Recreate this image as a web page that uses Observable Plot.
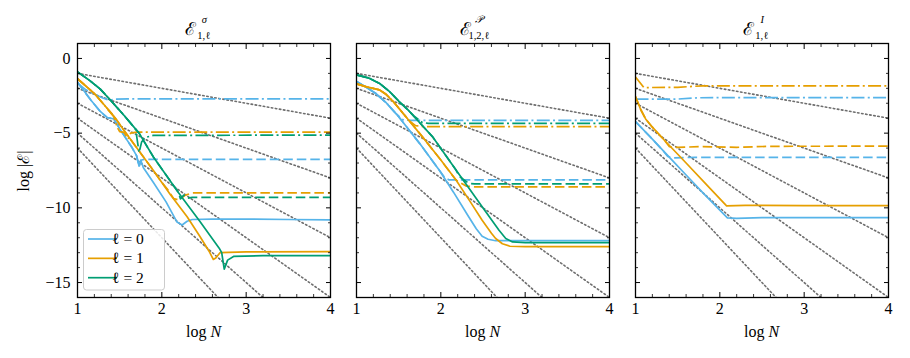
<!DOCTYPE html>
<html>
<head>
<meta charset="utf-8">
<script src="https://cdn.jsdelivr.net/npm/d3@7"></script>
<script src="https://cdn.jsdelivr.net/npm/@observablehq/plot@0.6"></script>
<style>
html, body { margin: 0; padding: 0; background: #fff; }
#chart { position: relative; width: 910px; height: 358px; overflow: hidden; background: #fff; }
#chart svg { position: absolute; top: 0; }
</style>
</head>
<body>
<div id="chart"></div>
<script>
// ---------- categories, colours, ticks ----------
const ellLevels = [0, 1, 2];
const ellColors = ["#56B4E9", "#E69F00", "#009E73"];
const ellLabels = ["ℓ = 0", "ℓ = 1", "ℓ = 2"];
const lineStyles = ["solid", "dashed", "dashdot"];

const xMajorTicks = [1, 2, 3, 4];
const xMinorTicks = [1.2, 1.4, 1.6, 1.8, 2.2, 2.4, 2.6, 2.8, 3.2, 3.4, 3.6, 3.8];
const yMajorTicks = [0, -5, -10, -15];
const yMinorTicks = [1, -1, -2, -3, -4, -6, -7, -8, -9, -11, -12, -13, -14, -16];

// reference slopes  log|E| = -p log N   (values at log N = 1 and log N = 4)
const refOrders = [1, 2, 3, 4, 5, 6];
const refStartX = 1, refEndX = 4;
const refStartY = [-1, -2, -3, -4, -5, -6];
const refEndY = [-4, -8, -12, -16, -20, -24];

// ---------- panel 1 : E^sigma_{1,l} ----------
const p1_l0_solid = [[1,-1.6],[1.08,-2.2],[1.16,-2.8],[1.27,-3.55],[1.35,-3.95],[1.43,-4.05],[1.5,-4.7],[1.58,-5.4],[1.65,-6.0],[1.7,-6.5],[1.73,-7.2],[1.75,-6.8],[1.78,-7.3],[1.9,-8.3],[2.05,-9.6],[2.18,-10.95],[2.24,-11.15],[2.3,-10.9],[2.36,-10.78],[2.6,-10.75],[3,-10.75],[3.5,-10.78],[4,-10.8]];
const p1_l0_dashed = [[1,-1.6],[1.08,-2.2],[1.16,-2.8],[1.27,-3.55],[1.35,-3.95],[1.43,-4.05],[1.5,-4.7],[1.58,-5.4],[1.65,-6.0],[1.7,-6.5],[1.73,-7.25],[1.76,-6.8],[1.8,-6.75],[4,-6.75]];
const p1_l0_dashdot = [[1,-1.65],[1.1,-2.1],[1.2,-2.4],[1.3,-2.65],[1.38,-2.8],[1.45,-2.72],[1.6,-2.7],[4,-2.7]];
const p1_l1_solid = [[1,-1.36],[1.1,-1.85],[1.2,-2.35],[1.3,-3.0],[1.43,-3.85],[1.55,-4.8],[1.73,-6.2],[1.9,-7.5],[2.1,-9.1],[2.3,-10.6],[2.45,-11.9],[2.56,-12.9],[2.61,-13.45],[2.64,-13.35],[2.69,-13.0],[3,-12.95],[4,-12.93]];
const p1_l1_dashed = [[1,-1.36],[1.1,-1.85],[1.2,-2.35],[1.3,-3.0],[1.43,-3.85],[1.55,-4.8],[1.73,-6.2],[1.9,-7.5],[2.0,-8.3],[2.06,-8.7],[2.14,-9.37],[2.2,-9.48],[2.28,-9.15],[2.36,-9.0],[4,-9.0]];
const p1_l1_dashdot = [[1,-1.36],[1.1,-1.85],[1.2,-2.35],[1.3,-3.0],[1.43,-3.9],[1.47,-4.6],[1.5,-4.9],[1.55,-4.95],[1.6,-5.4],[1.63,-5.0],[1.7,-4.93],[4,-4.93]];
const p1_l2_solid = [[1,-0.9],[1.15,-1.5],[1.27,-2.05],[1.4,-2.85],[1.55,-3.8],[1.73,-5.0],[1.9,-6.6],[2.2,-9.0],[2.45,-10.9],[2.68,-12.7],[2.71,-13.0],[2.74,-14.1],[2.78,-13.5],[2.85,-13.25],[3.2,-13.2],[4,-13.2]];
const p1_l2_dashed = [[1,-0.9],[1.15,-1.5],[1.27,-2.05],[1.4,-2.85],[1.55,-3.8],[1.73,-5.0],[1.9,-6.6],[2.2,-9.0],[2.22,-9.4],[2.26,-9.15],[2.3,-9.35],[2.36,-9.3],[4,-9.3]];
const p1_l2_dashdot = [[1,-0.9],[1.15,-1.5],[1.27,-2.05],[1.4,-2.85],[1.55,-3.8],[1.69,-4.75],[1.73,-6.3],[1.76,-5.6],[1.8,-5.3],[1.9,-5.15],[4,-5.13]];

// ---------- panel 2 : E^P_{1,2,l} ----------
const p2_l0_solid = [[1,-1.54],[1.12,-1.95],[1.23,-2.35],[1.35,-2.95],[1.5,-3.9],[1.75,-5.7],[1.98,-7.47],[2.15,-8.95],[2.33,-10.6],[2.42,-11.4],[2.49,-11.9],[2.56,-12.1],[2.65,-12.2],[3,-12.2],[4,-12.2]];
const p2_l0_dashed = [[1,-1.54],[1.12,-1.95],[1.23,-2.35],[1.35,-2.95],[1.5,-3.9],[1.75,-5.7],[1.98,-7.47],[2.05,-8.0],[2.1,-8.13],[4,-8.13]];
const p2_l0_dashdot = [[1,-1.54],[1.12,-1.95],[1.23,-2.35],[1.35,-2.95],[1.47,-3.7],[1.55,-4.1],[1.65,-4.15],[4,-4.15]];
const p2_l1_solid = [[1,-1.7],[1.12,-1.9],[1.27,-2.1],[1.35,-2.4],[1.43,-2.85],[1.6,-4.0],[1.78,-5.23],[2.0,-6.8],[2.18,-8.14],[2.35,-9.6],[2.49,-10.83],[2.6,-11.7],[2.65,-12.05],[2.73,-12.4],[2.82,-12.57],[3,-12.6],[4,-12.6]];
const p2_l1_dashed = [[1,-1.7],[1.12,-1.9],[1.27,-2.1],[1.35,-2.4],[1.43,-2.85],[1.6,-4.0],[1.78,-5.23],[2.0,-6.8],[2.18,-8.14],[2.3,-8.54],[2.4,-8.59],[4,-8.59]];
const p2_l1_dashdot = [[1,-1.7],[1.12,-1.9],[1.27,-2.1],[1.35,-2.4],[1.43,-2.85],[1.55,-3.65],[1.62,-4.15],[1.7,-4.5],[1.8,-4.56],[4,-4.56]];
const p2_l2_solid = [[1,-1.1],[1.15,-1.32],[1.28,-1.7],[1.39,-2.21],[1.5,-2.85],[1.62,-3.5],[1.9,-5.23],[2.18,-7.47],[2.49,-9.93],[2.69,-11.5],[2.77,-12.05],[2.85,-12.28],[3,-12.33],[4,-12.33]];
const p2_l2_dashed = [[1,-1.1],[1.15,-1.32],[1.28,-1.7],[1.39,-2.21],[1.5,-2.85],[1.62,-3.5],[1.9,-5.23],[2.18,-7.47],[2.22,-7.9],[2.33,-8.36],[2.4,-8.4],[4,-8.4]];
const p2_l2_dashdot = [[1,-1.1],[1.15,-1.32],[1.28,-1.7],[1.39,-2.21],[1.5,-2.85],[1.62,-3.5],[1.68,-3.85],[1.78,-4.29],[1.85,-4.34],[4,-4.34]];

// ---------- panel 3 : E^I_{1,l} ----------
const p3_l0_solid = [[1,-4.23],[1.2,-5.4],[1.4,-6.6],[1.6,-7.8],[1.8,-9.0],[2.0,-10.15],[2.09,-10.67],[2.2,-10.7],[2.5,-10.65],[3,-10.66],[4,-10.65]];
const p3_l0_dashed = [[1,-4.23],[1.2,-5.4],[1.33,-6.2],[1.38,-6.55],[1.45,-6.65],[1.7,-6.62],[4,-6.62]];
const p3_l0_dashdot = [[1,-2.72],[1.5,-2.72],[1.75,-2.63],[4,-2.62]];
const p3_l1_solid = [[1,-2.55],[1.06,-3.4],[1.12,-4.05],[1.2,-4.6],[1.34,-5.46],[1.6,-7.0],[1.85,-8.5],[2.08,-9.87],[2.3,-9.83],[3,-9.85],[4,-9.85]];
const p3_l1_dashed = [[1,-2.55],[1.06,-3.4],[1.12,-4.05],[1.2,-4.6],[1.34,-5.46],[1.4,-5.9],[1.5,-5.95],[1.8,-5.9],[2.2,-5.95],[2.6,-5.88],[4,-5.87]];
const p3_l1_dashdot = [[1,-1.25],[1.1,-1.95],[1.5,-1.93],[1.8,-1.83],[4,-1.83]];

const panelTitles = [
  {main: "ℰ", sup: "σ", sub: "1,ℓ"},
  {main: "ℰ", sup: "𝒫", sub: "1,2,ℓ"},
  {main: "ℰ", sup: "I", sub: "1,ℓ"}
];

// ---------- assemble ----------
function rows(ell, style, pts) { return pts.map(([x, y]) => ({ell, style, x, y})); }
const panelSeries = [
  [[0,"solid",p1_l0_solid],[0,"dashed",p1_l0_dashed],[0,"dashdot",p1_l0_dashdot],
   [1,"solid",p1_l1_solid],[1,"dashed",p1_l1_dashed],[1,"dashdot",p1_l1_dashdot],
   [2,"solid",p1_l2_solid],[2,"dashed",p1_l2_dashed],[2,"dashdot",p1_l2_dashdot]],
  [[0,"solid",p2_l0_solid],[0,"dashed",p2_l0_dashed],[0,"dashdot",p2_l0_dashdot],
   [1,"solid",p2_l1_solid],[1,"dashed",p2_l1_dashed],[1,"dashdot",p2_l1_dashdot],
   [2,"solid",p2_l2_solid],[2,"dashed",p2_l2_dashed],[2,"dashdot",p2_l2_dashdot]],
  [[0,"solid",p3_l0_solid],[0,"dashed",p3_l0_dashed],[0,"dashdot",p3_l0_dashdot],
   [1,"solid",p3_l1_solid],[1,"dashed",p3_l1_dashed],[1,"dashdot",p3_l1_dashdot]]
];
const refRows = refOrders.flatMap((p, i) => [
  {p, x: refStartX, y: refStartY[i]}, {p, x: refEndX, y: refEndY[i]}
]);

const dashOf = {solid: null, dashed: "9.5,4", dashdot: "13,3.3,2,3.3"};
const SERIF = "Liberation Serif, DejaVu Serif, serif";
const fmt = d => d < 0 ? "\u2212" + (-d) : String(d);

// layout of the three panels (svg left offset, width, margins)
const layout = [
  {left: 0,   width: 343, ml: 77, mr: 13},
  {left: 343, width: 279, ml: 13, mr: 13},
  {left: 622, width: 288, ml: 13, mr: 22}
];
const MT = 43, MB = 61, H = 358;

const chart = document.getElementById("chart");

layout.forEach((L, pi) => {
  const data = panelSeries[pi].flatMap(([ell, st, pts]) => rows(ell, st, pts));
  const lineMarks = [];
  ellLevels.forEach(ell => {
    lineStyles.forEach(st => {
      const sub = data.filter(d => d.ell === ell && d.style === st);
      if (!sub.length) return;
      lineMarks.push(Plot.line(sub, {
        x: "x", y: "y", stroke: "ell", strokeWidth: 1.7,
        strokeDasharray: dashOf[st], clip: true,
        strokeLinejoin: "round", strokeLinecap: "butt"
      }));
    });
  });

  const axes = [
    Plot.axisX(xMajorTicks, {anchor: "bottom", tickSize: -5, fill: "none", label: null, strokeWidth: 1}),
    Plot.axisX(xMinorTicks, {anchor: "bottom", tickSize: -3, fill: "none", label: null, strokeWidth: 0.8}),
    Plot.axisX(xMajorTicks, {anchor: "top", tickSize: -5, fill: "none", label: null, strokeWidth: 1}),
    Plot.axisX(xMinorTicks, {anchor: "top", tickSize: -3, fill: "none", label: null, strokeWidth: 0.8}),
    Plot.axisX(xMajorTicks, {anchor: "bottom", tickSize: 0, tickPadding: 5, tickFormat: fmt, label: null}),
    Plot.axisY(yMajorTicks, {anchor: "left", tickSize: -5, fill: "none", label: null, strokeWidth: 1}),
    Plot.axisY(yMinorTicks, {anchor: "left", tickSize: -3, fill: "none", label: null, strokeWidth: 0.8}),
    Plot.axisY(yMajorTicks, {anchor: "right", tickSize: -5, fill: "none", label: null, strokeWidth: 1}),
    Plot.axisY(yMinorTicks, {anchor: "right", tickSize: -3, fill: "none", label: null, strokeWidth: 0.8})
  ];
  if (pi === 0) axes.push(Plot.axisY(yMajorTicks, {anchor: "left", tickSize: 0, tickPadding: 7, tickFormat: fmt, label: null}));

  const svg = Plot.plot({
    width: L.width, height: H,
    marginLeft: L.ml, marginRight: L.mr, marginTop: MT, marginBottom: MB,
    x: {domain: [1, 4]},
    y: {domain: [-16, 1]},
    color: {type: "ordinal", domain: ellLevels, range: ellColors},
    style: {fontFamily: SERIF, fontSize: "16px", background: "transparent", color: "black", overflow: "visible"},
    marks: [
      Plot.line(refRows, {x: "x", y: "y", z: "p", stroke: "#6e6e6e", strokeWidth: 1.6, strokeDasharray: "1.5,2.6", clip: true}),
      ...lineMarks,
      Plot.frame({stroke: "black", strokeWidth: 1.3}),
      ...axes
    ]
  });
  svg.style.left = L.left + "px";
  chart.appendChild(svg);

  const s = d3.select(svg);
  const x0 = L.ml, x1 = L.width - L.mr, cx = (x0 + x1) / 2;

  // title: main symbol, superscript and subscript stacked
  const t = panelTitles[pi];
  const g = s.append("g").attr("font-family", SERIF).attr("fill", "black");
  const m = g.append("text").attr("x", 0).attr("y", 35).attr("font-size", 18).text(t.main);
  const w = m.node().getComputedTextLength() + 2.5;
  const sp = g.append("text").attr("x", w + 0.5).attr("y", 23).attr("font-size", 10.5).attr("font-style", "italic").text(t.sup);
  const sb = g.append("text").attr("x", w).attr("y", 39).attr("font-size", 10.5).text(t.sub);
  const tw = w + Math.max(sp.node().getComputedTextLength(), sb.node().getComputedTextLength());
  g.attr("transform", `translate(${cx - tw / 2},0)`);

  // x label
  const xl = s.append("text").attr("x", cx).attr("y", 336.5).attr("text-anchor", "middle")
    .attr("font-family", SERIF).attr("font-size", 16).attr("fill", "black");
  xl.append("tspan").text("log ");
  xl.append("tspan").attr("font-style", "italic").text("N");

  if (pi === 0) {
    // y label
    const yl = s.append("text").attr("transform", "translate(29,171) rotate(-90)")
      .attr("text-anchor", "middle").attr("font-family", SERIF).attr("font-size", 16).attr("fill", "black");
    yl.append("tspan").text("log |");
    yl.append("tspan").text("ℰ");
    yl.append("tspan").text("|");

    // legend
    const lg = s.append("g");
    lg.append("rect").attr("x", 83.5).attr("y", 229.5).attr("width", 81).attr("height", 60.5)
      .attr("rx", 3).attr("fill", "white").attr("fill-opacity", 0.85).attr("stroke", "#cccccc").attr("stroke-width", 1);
    ellLevels.forEach((ell, i) => {
      const ly = 239 + i * 19.35;
      lg.append("line").attr("x1", 88).attr("x2", 117).attr("y1", ly).attr("y2", ly)
        .attr("stroke", ellColors[i]).attr("stroke-width", 1.7);
      lg.append("text").attr("x", 128).attr("y", ly + 5).attr("font-family", SERIF)
        .attr("font-size", 15.5).attr("fill", "black").text(ellLabels[i]);
    });
  }
});
</script>
</body>
</html>
